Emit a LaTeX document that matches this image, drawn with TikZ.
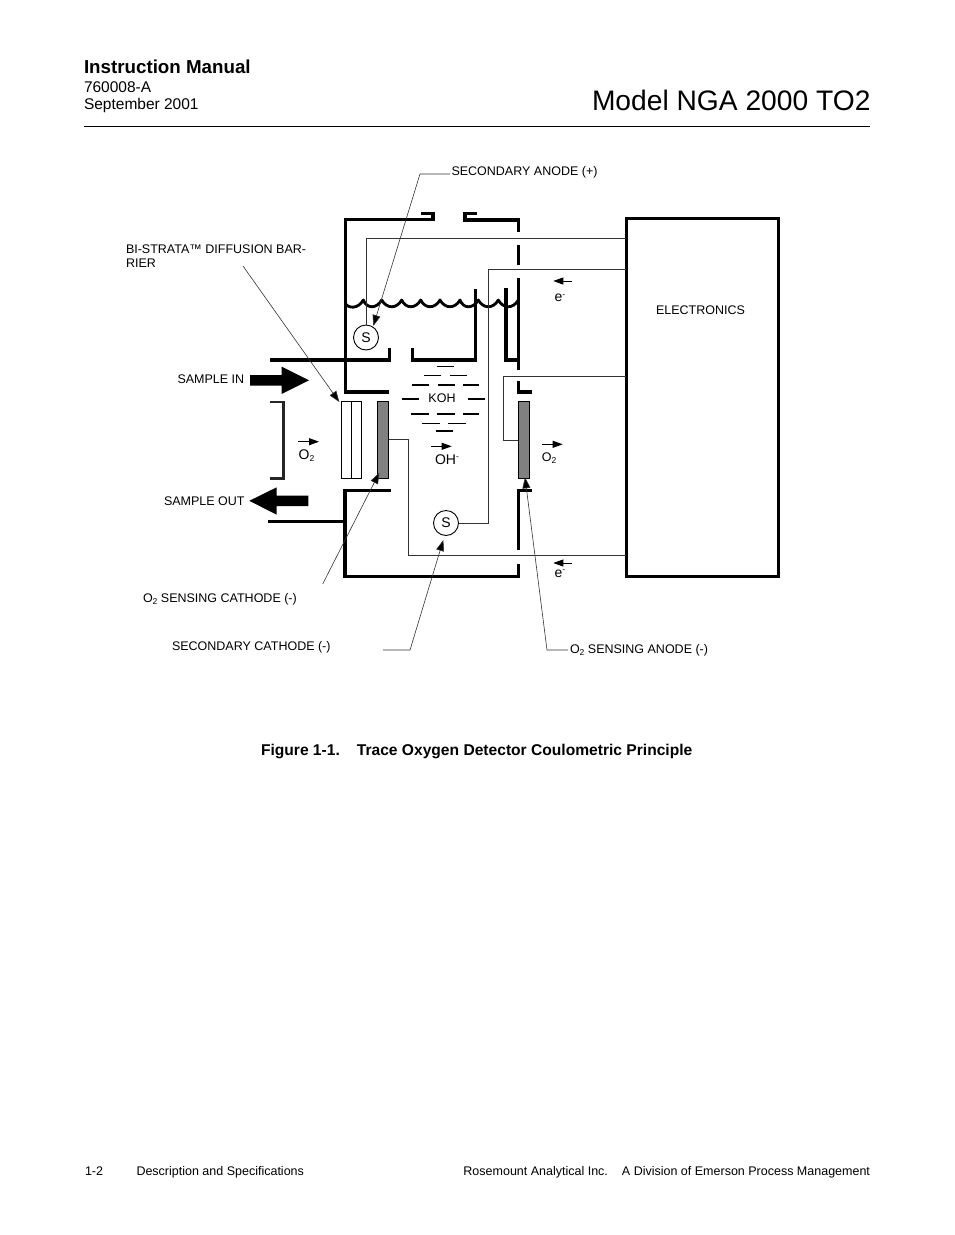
\documentclass[tikz,border=0pt]{standalone}
\usepackage{fontspec}
\setmainfont{Liberation Sans}
\usetikzlibrary{arrows.meta}
\newcommand{\lowtwo}{\raisebox{-2pt}{\fontsize{8.5}{9}\selectfont 2}}
\newcommand{\himinus}{\raisebox{4.5pt}{\fontsize{8.5}{9}\selectfont -}}
\tikzset{
  x=1pt,y=-1pt,
  txt/.style={anchor=base west,inner sep=0pt,outer sep=0pt,font=\fontsize{12.5}{14}\selectfont},
  ctr/.style={anchor=base,inner sep=0pt,outer sep=0pt,font=\fontsize{12.5}{14}\selectfont},
  wall/.style={line width=3.4pt,line cap=butt,miter limit=10},
  wire/.style={line width=1pt,draw=black!80},
  lead/.style={line width=0.6pt,draw=black!80,-{Triangle[length=11pt,width=8pt,fill=black]}},
  smallarrow/.style={line width=0.8pt,-{Triangle[length=10pt,width=7pt]}},
  dashthick/.style={line width=2pt},
  dashthin/.style={line width=1pt},
  fatarrow/.style={fill=black,draw=none},
  sensor/.style={draw,circle,minimum size=25pt,inner sep=0pt,line width=0.9pt,font=\fontsize{14}{14}\selectfont},
  membrane/.style={draw,line width=1pt,fill=white,minimum width=10pt,minimum height=77pt,inner sep=0pt},
  electrode/.style={draw,line width=1pt,fill=black!50,minimum width=11pt,minimum height=77pt,inner sep=0pt},
}
\begin{document}
\begin{tikzpicture}
\useasboundingbox (0,0) rectangle (954,1235);
% header
\node[txt,font=\bfseries\fontsize{18.75}{20}\selectfont] (hmanual) at (84,73) {Instruction Manual};
\node[txt,font=\fontsize{15.5}{16}\selectfont] (hnum) at (84,92) {760008-A};
\node[txt,font=\fontsize{15.5}{16}\selectfont] (hdate) at (84,109) {September 2001};
\node[txt,font=\fontsize{28.2}{32}\selectfont] (htitle) at (592,110) {Model NGA 2000 TO2};
\coordinate (rl) at (84,126.5); \coordinate (rr) at (870,126.5);
\draw[line width=0.9pt] (rl) -- (rr);
% electronics
\node[draw,line width=3pt,minimum width=152pt,minimum height=358pt,inner sep=0pt,outer sep=0pt] (elec) at (702,397.5) {};
\node[ctr] (electxt) at (700.5,314) {ELECTRONICS};
% outer cell walls
\draw[wall] (421,213.5) -- (433,213.5) -- (433,219.5) -- (345.5,219.5) -- (345.5,392) -- (389,392);
\draw[wall] (477,213.5) -- (465,213.5) -- (465,220) -- (518.5,220) -- (518.5,232);
\draw[wall] (518.5,245) -- (518.5,264.5);
\draw[wall] (518.5,278) -- (518.5,370);
\draw[wall] (518.5,381) -- (518.5,392) -- (532,392);
\draw[wall] (532,490.5) -- (518.5,490.5) -- (518.5,550);
\draw[wall] (518.5,564) -- (518.5,576.5) -- (345,576.5) -- (345,490.5) -- (390.5,490.5);
\draw[wall] (270,360) -- (389.5,360) -- (389.5,348);
\draw[wall] (412.5,348) -- (412.5,360) -- (475.5,360) -- (475.5,289);
\draw[wall] (506,288) -- (506,360) -- (518.5,360);
\draw[wall] (268,521.5) -- (345,521.5);
% electrolyte surface
\draw[line width=2.8pt,line join=round] (345,303)
  foreach \cx in {363.3,381.7,401.7,420.7,440,460,478.3,498.3,518.3} {
    .. controls (\cx-15,309) and (\cx-5,309) .. (\cx,300)
  };
% bracket
\draw[line width=2.2pt,draw=black!85] (269.5,402) -- (283.5,402) -- (283.5,478.5) -- (269.5,478.5);
% barrier and electrodes
\node[membrane] (bar1) at (346.3,440) {};
\node[membrane] (bar2) at (356.3,440) {};
\node[electrode] (cath) at (383.2,440) {};
\node[electrode] (anod) at (524,440) {};
% sensors
\node[sensor] (s1) at (366,337.5) {S};
\node[sensor] (s2) at (446,523) {S};
% wires
\coordinate (ea) at (626,238.5);
\coordinate (eb) at (626,269.5);
\coordinate (ec) at (626,376);
\coordinate (ed) at (626,555.5);
\coordinate (cs) at (388.7,439.5);
\coordinate (as) at (518.3,440.7);
\draw[wire] (s1.north) |- (ea);
\draw[wire] (s2.east) -| (488.3,269.5) -- (eb);
\draw[wire] (as) -| (503.7,376) -- (ec);
\draw[wire] (cs) -| (408.3,555.5) -- (ed);
% sample arrows
\fill[fatarrow] (250,375) -- (281.7,375) -- (281.7,366.7) -- (309,380.3) -- (281.7,394) -- (281.7,385.7) -- (250,385.7) -- cycle;
\fill[fatarrow] (308.3,495.7) -- (276.7,495.7) -- (276.7,487.3) -- (249.3,500.8) -- (276.7,514.7) -- (276.7,506) -- (308.3,506) -- cycle;
% KOH
\foreach \xa/\xb/\yy/\st in {
  436.7/454/366.7/dashthin, 424/440.7/375/dashthin, 450/466.7/375/dashthin,
  412/429/384.7/dashthick, 438/455/384.7/dashthick, 463.3/479.3/384.7/dashthick,
  402.3/419/399.3/dashthick, 468.3/485/399.3/dashthick,
  411/428.7/413.7/dashthick, 437/455/413.7/dashthick, 463.3/478.7/413.7/dashthick,
  422/440/423/dashthin, 448/466/423/dashthin, 435.7/452.7/431/dashthick}
  {\draw[\st] (\xa,\yy) -- (\xb,\yy);}
\node[ctr] (koh) at (442,402) {KOH};
% small arrows and labels
\coordinate (ao1) at (298.3,441.7); \coordinate (ao2) at (319,441.7);
\draw[smallarrow] (ao1) -- (ao2);
\node[ctr,font=\fontsize{14}{14}\selectfont] (o2l) at (306.5,459.5) {O\lowtwo};
\coordinate (ah1) at (431,446.3); \coordinate (ah2) at (451.7,446.3);
\draw[smallarrow] (ah1) -- (ah2);
\node[ctr,font=\fontsize{14}{14}\selectfont] (ohl) at (447,464) {OH\himinus};
\coordinate (ar1) at (542.3,444.3); \coordinate (ar2) at (562.7,444.3);
\draw[smallarrow] (ar1) -- (ar2);
\node[ctr] (o2r) at (549,461.5) {O\lowtwo};
\coordinate (et1) at (572.3,281); \coordinate (et2) at (553.3,281);
\draw[smallarrow] (et1) -- (et2);
\node[ctr,font=\fontsize{14}{14}\selectfont] (etl) at (560,301.5) {e\himinus};
\coordinate (eb1) at (572.3,563); \coordinate (eb2) at (553.3,563);
\draw[smallarrow] (eb1) -- (eb2);
\node[ctr,font=\fontsize{14}{14}\selectfont] (ebl) at (560,577) {e\himinus};
% labels
\node[txt] (lsa) at (451.5,175) {SECONDARY ANODE (+)};
\node[txt,align=left,anchor=north west] (lbi) at (126,245) {BI-STRATA™ DIFFUSION BAR-\\RIER};
\node[txt] (lin) at (177.5,383) {SAMPLE IN};
\node[txt] (lout) at (164,505) {SAMPLE OUT};
\node[txt] (lsc) at (143,602) {O\lowtwo{} SENSING CATHODE (-)};
\node[txt] (lsec) at (172,650) {SECONDARY CATHODE (-)};
\node[txt] (lan) at (570,653) {O\lowtwo{} SENSING ANODE (-)};
% leaders
\coordinate (sa0) at (450,174); \coordinate (sa1) at (420,174); \coordinate (sa2) at (373.3,326);
\draw[lead] (sa0) -- (sa1) -- (sa2);
\coordinate (bi0) at (243,266); \coordinate (bi1) at (339.3,402);
\draw[lead] (bi0) -- (bi1);
\coordinate (ca0) at (322.7,584); \coordinate (ca1) at (379.3,472.7);
\draw[lead] (ca0) -- (ca1);
\coordinate (se0) at (383,650); \coordinate (se1) at (410,650); \coordinate (se2) at (443.3,540);
\draw[lead] (se0) -- (se1) -- (se2);
\coordinate (an0) at (568,650); \coordinate (an1) at (547,650); \coordinate (an2) at (525,477.3);
\draw[lead] (an0) -- (an1) -- (an2);
% caption
\node[txt,font=\bfseries\fontsize{15.6}{16}\selectfont] (cap) at (261,755) {Figure 1-1.\hspace{17pt}Trace Oxygen Detector Coulometric Principle};
% footer
\node[txt] (f1) at (85,1175) {1-2};
\node[txt] (f2) at (136.5,1175) {Description and Specifications};
\node[txt,anchor=base east] (f3) at (870,1175) {Rosemount Analytical Inc.\hspace{14pt}A Division of Emerson Process Management};
\end{tikzpicture}
\end{document}
